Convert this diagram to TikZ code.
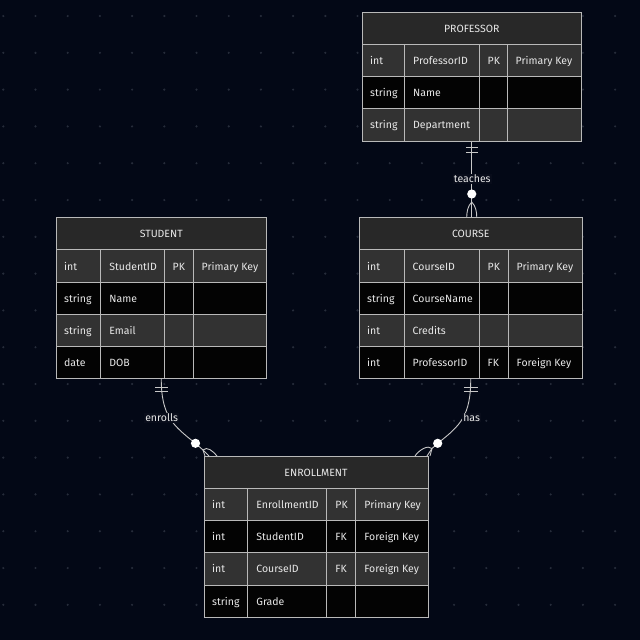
\documentclass[tikz,border=0pt]{standalone}
\usepackage{fontspec}
\setmainfont{Fira Sans}
\usetikzlibrary{calc}
\definecolor{bgc}{RGB}{3,8,22}
\definecolor{dotc}{RGB}{38,44,58}
\definecolor{headc}{RGB}{40,40,40}
\definecolor{grayrow}{RGB}{50,50,50}
\definecolor{blackrow}{RGB}{3,3,3}
\definecolor{borderc}{RGB}{185,185,185}
\definecolor{textc}{RGB}{232,232,232}
\definecolor{connc}{RGB}{200,200,200}
\definecolor{lblbg}{RGB}{8,12,26}
\tikzset{
  erline/.style={draw=borderc, line width=1pt},
  ertext/.style={text=textc, font=\fontsize{10.5}{12}\selectfont, inner sep=0pt, anchor=base west},
  erhead/.style={ertext, anchor=base},
  tblbox/.style={inner sep=0pt, outer sep=0pt, draw=none},
  conn/.style={draw=connc, line width=0.9pt},
  lbl/.style={fill=lblbg, text=textc, font=\fontsize{10.5}{12}\selectfont, inner sep=1pt},
}
\newcommand\ERcols[5]{\def\cA{#1}\def\cB{#2}\def\cC{#3}\def\cD{#4}\def\cE{#5}}
\newcommand\ERhead[4]{%
  \fill[headc] (\cA,-#1) rectangle (\cE,-#2);
  \draw[erline] (\cA,-#1) rectangle (\cE,-#2);
  \node[erhead] (#4) at ({(\cA+\cE)/2},{-(#1+#2)/2-4.2}) {#3};}
\newcommand\ERrow[8]{%
  \fill[#3] (\cA,-#1) rectangle (\cE,-#2);
  \draw[erline] (\cA,-#1) rectangle (\cE,-#2) (\cB,-#1) -- (\cB,-#2) (\cC,-#1) -- (\cC,-#2) (\cD,-#1) -- (\cD,-#2);
  \node[ertext] (#8a) at ({\cA+8},{-(#1+#2)/2-4.2}) {#4};
  \node[ertext] (#8b) at ({\cB+8.5},{-(#1+#2)/2-4.2}) {#5};
  \node[ertext] (#8c) at ({\cC+8.5},{-(#1+#2)/2-4.2}) {#6};
  \node[ertext] (#8d) at ({\cD+8.5},{-(#1+#2)/2-4.2}) {#7};}
\begin{document}
\begin{tikzpicture}[x=1pt,y=1pt]
\fill[bgc] (0,0) rectangle (640,-640);
\useasboundingbox (0,0) rectangle (640,-640);
\foreach \i in {0,...,19}
  \foreach \j in {0,...,16}
    \fill[dotc] ({3.3+32.2*\i},{-16-36.8*\j}) circle (1.2);

% table boxes
\node[tblbox, minimum width=219.5pt, minimum height=129.5pt] (prof) at (471.75,-76.75) {};
\node[tblbox, minimum width=210.5pt, minimum height=161.5pt] (student) at (161.25,-297.75) {};
\node[tblbox, minimum width=223.5pt, minimum height=161.5pt] (course) at (470.75,-297.75) {};
\node[tblbox, minimum width=224pt, minimum height=161pt] (enroll) at (316,-536.5) {};

% PROFESSOR
\ERcols{362}{404.5}{479}{507}{581.5}
\ERhead{12}{44}{PROFESSOR}{profH}
\ERrow{44}{76}{grayrow}{int}{ProfessorID}{PK}{Primary Key}{p1}
\ERrow{76}{108}{blackrow}{string}{Name}{}{}{p2}
\ERrow{108}{141.5}{grayrow}{string}{Department}{}{}{p3}

% STUDENT
\ERcols{56}{100.7}{164}{193}{266.5}
\ERhead{217}{249.5}{STUDENT}{stuH}
\ERrow{249.5}{282.5}{grayrow}{int}{StudentID}{PK}{Primary Key}{s1}
\ERrow{282.5}{314.5}{blackrow}{string}{Name}{}{}{s2}
\ERrow{314.5}{346.5}{grayrow}{string}{Email}{}{}{s3}
\ERrow{346.5}{378.5}{blackrow}{date}{DOB}{}{}{s4}

% COURSE
\ERcols{359}{404}{479}{508}{582.5}
\ERhead{217}{249.5}{COURSE}{couH}
\ERrow{249.5}{282.5}{grayrow}{int}{CourseID}{PK}{Primary Key}{c1}
\ERrow{282.5}{314.5}{blackrow}{string}{CourseName}{}{}{c2}
\ERrow{314.5}{346.5}{grayrow}{int}{Credits}{}{}{c3}
\ERrow{346.5}{378.5}{blackrow}{int}{ProfessorID}{FK}{Foreign Key}{c4}

% ENROLLMENT
\ERcols{204}{247.7}{326.7}{355.7}{428}
\ERhead{456}{488}{ENROLLMENT}{enrH}
\ERrow{488}{520}{grayrow}{int}{EnrollmentID}{PK}{Primary Key}{e1}
\ERrow{520}{552.5}{blackrow}{int}{StudentID}{FK}{Foreign Key}{e2}
\ERrow{552.5}{585}{grayrow}{int}{CourseID}{FK}{Foreign Key}{e3}
\ERrow{585}{617}{blackrow}{string}{Grade}{}{}{e4}

% ---- teaches: PROFESSOR -> COURSE
\coordinate (tS) at (prof.south);
\coordinate (tE) at (prof.south |- course.north);
\coordinate (tC) at ($(tE)+(0,23)$);
\coordinate (tP) at ($(tE)+(0,15)$);
\draw[conn] (tS) -- (tE);
\draw[conn] ($(tS)+(-6,-5.5)$) -- ++(12,0);
\draw[conn] ($(tS)+(-6,-11)$) -- ++(12,0);
\draw[conn] (tP) .. controls ++(-4,-4) and ++(0,5) .. ($(tE)+(-5,0)$);
\draw[conn] (tP) .. controls ++(4,-4) and ++(0,5) .. ($(tE)+(5,0)$);
\fill[white] (tC) circle (4.6);
\node[lbl] (lteach) at ($(tE)+(0.5,38)$) {teaches};

% ---- enrolls: STUDENT -> ENROLLMENT
\coordinate (eS) at (student.south);
\coordinate (eC) at ($(enroll.north west)+(-8.5,12.7)$);
\coordinate (eP) at ($(enroll.north west)+(-1,6)$);
\draw[conn] (eS) .. controls ($(eS)+(0,-37)$) and ($(eC)+(-23,18)$) .. (eC) -- (eP);
\draw[conn] (eP) -- ($(enroll.north west)+(1,0)$);
\draw[conn] (eP) -- ($(enroll.north west)+(5,0)$);
\draw[conn] (eP) .. controls ($(eP)+(4,4)$) and ($(enroll.north west)+(9,5)$) .. ($(enroll.north west)+(13,0)$);
\draw[conn] ($(eS)+(-6.5,-8.5)$) -- ++(13,0);
\draw[conn] ($(eS)+(-6.5,-12.5)$) -- ++(13,0);
\fill[white] (eC) circle (4.6);
\node[lbl] (lenr) at ($(eS)+(0.4,-39)$) {enrolls};

% ---- has: COURSE -> ENROLLMENT
\coordinate (hS) at (course.south);
\coordinate (hC) at ($(enroll.north east)+(9.7,12.7)$);
\coordinate (hP) at ($(enroll.north east)+(4,7.5)$);
\draw[conn] (hS) .. controls ($(hS)+(0,-37)$) and ($(hC)+(23,18)$) .. (hC) -- (hP);
\draw[conn] (hP) -- ($(enroll.north east)+(2,0)$);
\draw[conn] (hP) -- ($(enroll.north east)+(-1,0)$);
\draw[conn] (hP) .. controls ($(hP)+(-4,4)$) and ($(enroll.north east)+(-9,6)$) .. ($(enroll.north east)+(-13,0)$);
\draw[conn] ($(hS)+(-7,-8.5)$) -- ++(14,0);
\draw[conn] ($(hS)+(-7,-12.5)$) -- ++(14,0);
\fill[white] (hC) circle (4.6);
\node[lbl] (lhas) at ($(hS)+(0.9,-39)$) {has};
\end{tikzpicture}
\end{document}
